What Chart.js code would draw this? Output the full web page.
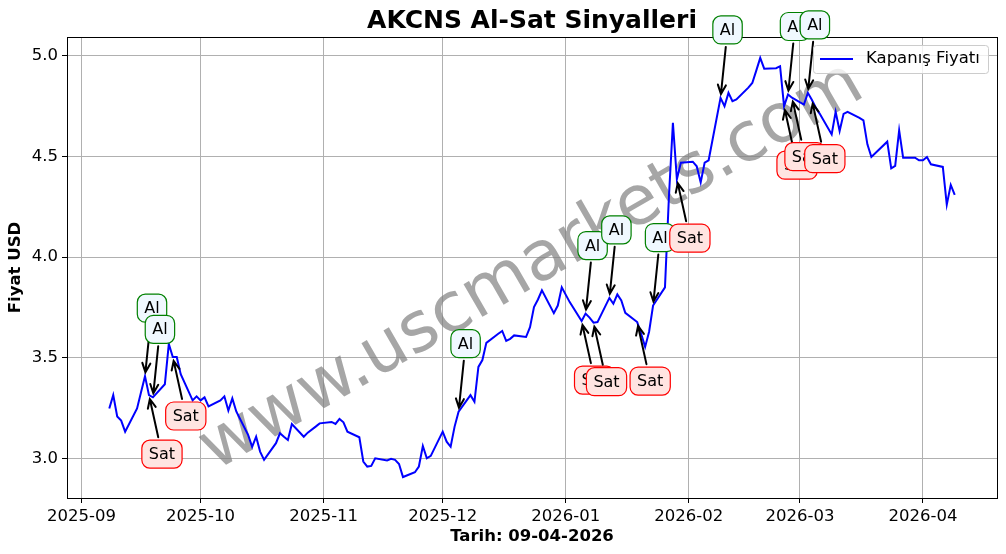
<!DOCTYPE html>
<html>
<head>
<meta charset="utf-8">
<script src="https://cdn.jsdelivr.net/npm/chart.js@4.4.1/dist/chart.umd.min.js"></script>
<style>
  body { margin: 0; background: #fff; }
  #wrap { width: 1006px; height: 554px; }
</style>
</head>
<body>
<div id="wrap"><canvas id="chart" width="1006" height="554"></canvas></div>
<script>
// Data
const dates = [
  '2025-09-08','2025-09-09','2025-09-10','2025-09-11','2025-09-12',
  '2025-09-15','2025-09-16','2025-09-17','2025-09-18','2025-09-19',
  '2025-09-22','2025-09-23','2025-09-24','2025-09-25','2025-09-26',
  '2025-09-29','2025-09-30','2025-10-01','2025-10-02','2025-10-03',
  '2025-10-06','2025-10-07','2025-10-08','2025-10-09','2025-10-10',
  '2025-10-13','2025-10-14','2025-10-15','2025-10-16','2025-10-17',
  '2025-10-20','2025-10-21','2025-10-22','2025-10-23','2025-10-24',
  '2025-10-27','2025-10-28','2025-10-30','2025-10-31',
  '2025-11-03','2025-11-04','2025-11-05','2025-11-06','2025-11-07',
  '2025-11-10','2025-11-11','2025-11-12','2025-11-13','2025-11-14',
  '2025-11-17','2025-11-18','2025-11-19','2025-11-20','2025-11-21',
  '2025-11-24','2025-11-25','2025-11-26','2025-11-27','2025-11-28',
  '2025-12-01','2025-12-02','2025-12-03','2025-12-04','2025-12-05',
  '2025-12-08','2025-12-09','2025-12-10','2025-12-11','2025-12-12',
  '2025-12-15','2025-12-16','2025-12-17','2025-12-18','2025-12-19',
  '2025-12-22','2025-12-23','2025-12-24','2025-12-25','2025-12-26',
  '2025-12-29','2025-12-30','2025-12-31','2026-01-02',
  '2026-01-05','2026-01-06','2026-01-07','2026-01-08','2026-01-09',
  '2026-01-12','2026-01-13','2026-01-14','2026-01-15','2026-01-16',
  '2026-01-19','2026-01-20','2026-01-21','2026-01-22','2026-01-23',
  '2026-01-26','2026-01-27','2026-01-28','2026-01-29','2026-01-30',
  '2026-02-02','2026-02-03','2026-02-04','2026-02-05','2026-02-06',
  '2026-02-09','2026-02-10','2026-02-11','2026-02-12','2026-02-13',
  '2026-02-16','2026-02-17','2026-02-18','2026-02-19','2026-02-20',
  '2026-02-23','2026-02-24','2026-02-25','2026-02-26','2026-02-27',
  '2026-03-02','2026-03-03','2026-03-04','2026-03-05','2026-03-06',
  '2026-03-09','2026-03-10','2026-03-11','2026-03-12','2026-03-13',
  '2026-03-16','2026-03-17','2026-03-18','2026-03-19',
  '2026-03-23','2026-03-24','2026-03-25','2026-03-26','2026-03-27',
  '2026-03-30','2026-03-31','2026-04-01','2026-04-02','2026-04-03',
  '2026-04-06','2026-04-07','2026-04-08','2026-04-09'
];
const closes = [
  3.25, 3.316, 3.21, 3.19, 3.135,
  3.25, 3.33, 3.41, 3.316, 3.305,
  3.37, 3.57, 3.505, 3.505, 3.42,
  3.29, 3.31, 3.29, 3.305, 3.26,
  3.29, 3.31, 3.24, 3.30, 3.235,
  3.118, 3.06, 3.11, 3.036, 2.995,
  3.078, 3.127, 3.11, 3.094, 3.173,
  3.11, 3.13, 3.16, 3.176,
  3.183, 3.173, 3.198, 3.181, 3.135,
  3.107, 2.987, 2.962, 2.965, 3.003,
  2.992, 3.0, 2.995, 2.975, 2.91,
  2.934, 2.962, 3.064, 3.003, 3.015,
  3.135, 3.085, 3.06, 3.16, 3.234,
  3.316, 3.283, 3.456, 3.49, 3.575,
  3.62, 3.634, 3.585, 3.595, 3.612,
  3.604, 3.653, 3.752, 3.79, 3.835,
  3.722, 3.76, 3.85, 3.777,
  3.683, 3.72, 3.70, 3.675, 3.678,
  3.798, 3.769, 3.815, 3.785, 3.724,
  3.678, 3.62, 3.555, 3.63, 3.76,
  3.85, 4.30, 4.666, 4.386, 4.468,
  4.473, 4.45, 4.37, 4.468, 4.48,
  4.789, 4.748, 4.814, 4.773, 4.781,
  4.84, 4.863, 4.924, 4.987, 4.934,
  4.936, 4.946, 4.748, 4.806, 4.79,
  4.756, 4.814, 4.78, 4.74, 4.71,
  4.608, 4.72, 4.625, 4.71, 4.72,
  4.69, 4.678, 4.559, 4.496,
  4.572, 4.44, 4.452, 4.628, 4.493,
  4.493, 4.48, 4.48, 4.496, 4.46,
  4.447, 4.26, 4.358, 4.309
];
const buyDates = ['2025-09-17','2025-09-19','2025-12-05','2026-01-06','2026-01-12','2026-01-23','2026-02-09','2026-02-26','2026-03-03'];
const sellDates = ['2025-09-18','2025-09-24','2026-01-05','2026-01-08','2026-01-19','2026-01-29','2026-02-25','2026-02-27','2026-03-04'];
const monthTicks = ['2025-09-01','2025-10-01','2025-11-01','2025-12-01','2026-01-01','2026-02-01','2026-03-01','2026-04-01'];
const monthLabels = ['2025-09','2025-10','2025-11','2025-12','2026-01','2026-02','2026-03','2026-04'];
const yTicks = [3.0, 3.5, 4.0, 4.5, 5.0];

const FONT = "'DejaVu Sans', 'Liberation Sans', sans-serif";
Chart.defaults.font.family = FONT;

const dayNum = (s) => {
  const [y, m, d] = s.split('-').map(Number);
  return (Date.UTC(y, m - 1, d) - Date.UTC(2025, 8, 1)) / 86400000;
};

const points = dates.map((d, i) => ({ x: dayNum(d), y: closes[i] }));
const firstDay = dayNum(dates[0]);
const lastDay = dayNum(dates[dates.length - 1]);
const xPad = (lastDay - firstDay) * 0.05;
const yMinV = Math.min(...closes), yMaxV = Math.max(...closes);
const yPad = (yMaxV - yMinV) * 0.05;

const priceOn = (d) => closes[dates.indexOf(d)];

// arrow + rounded box like matplotlib annotate
const drawSignal = (ctx, px, py, label) => {
  const buy = label === 'Al';
  const cx = px + (buy ? 7 : 13);
  const cy = py + (buy ? -68 : 59);
  ctx.font = '16px ' + FONT;
  const tw = ctx.measureText(label).width;
  const w = tw + 14, h = 28;

  // arrow
  let dx = px - cx, dy = py - cy;
  const len = Math.hypot(dx, dy);
  const ux = dx / len, uy = dy / len;
  const tEdge = Math.min(Math.abs(ux) > 1e-6 ? (w / 2) / Math.abs(ux) : 1e9, (h / 2) / Math.abs(uy));
  const sx = cx + ux * (tEdge + 3), sy = cy + uy * (tEdge + 3);
  const ex = px - ux * 4, ey = py - uy * 4;
  ctx.save();
  ctx.strokeStyle = '#000';
  ctx.lineWidth = 2;
  ctx.lineCap = 'round';
  ctx.beginPath();
  ctx.moveTo(sx, sy);
  ctx.lineTo(ex, ey);
  const hl = 9, hw = 4;
  const bx = ex - ux * hl, by = ey - uy * hl;
  ctx.moveTo(bx - uy * hw, by + ux * hw);
  ctx.lineTo(ex, ey);
  ctx.lineTo(bx + uy * hw, by - ux * hw);
  ctx.stroke();

  // box
  ctx.beginPath();
  ctx.roundRect(cx - w / 2, cy - h / 2, w, h, 8);
  ctx.fillStyle = buy ? '#f0f8ff' : '#ffe4e1';
  ctx.fill();
  ctx.lineWidth = 1.2;
  ctx.strokeStyle = buy ? 'green' : 'red';
  ctx.stroke();
  ctx.fillStyle = '#000';
  ctx.textAlign = 'center';
  ctx.textBaseline = 'middle';
  ctx.fillText(label, cx, cy + 1);
  ctx.restore();
};

const extras = {
  id: 'extras',
  beforeDraw(chart) {
    const ctx = chart.ctx;
    ctx.save();
    ctx.fillStyle = '#fff';
    ctx.fillRect(0, 0, chart.width, chart.height);
    ctx.restore();
  },
  beforeDatasetsDraw(chart) {
    const { ctx, chartArea: a } = chart;
    ctx.save();
    ctx.translate((a.left + a.right) / 2, (a.top + a.bottom) / 2);
    ctx.rotate(-30 * Math.PI / 180);
    ctx.font = '69px ' + FONT;
    ctx.fillStyle = 'rgba(128,128,128,0.7)';
    ctx.textAlign = 'center';
    ctx.textBaseline = 'middle';
    ctx.fillText('www.uscmarkets.com', 0, 0);
    ctx.restore();
  },
  afterDatasetsDraw(chart) {
    const { ctx, chartArea: a, scales } = chart;
    // axes frame
    ctx.save();
    ctx.strokeStyle = '#000';
    ctx.lineWidth = 1;
    ctx.strokeRect(Math.round(a.left) + 0.5, Math.round(a.top) + 0.5, Math.round(a.right - a.left), Math.round(a.bottom - a.top));
    ctx.restore();

    buyDates.forEach(d => {
      drawSignal(ctx, scales.x.getPixelForValue(dayNum(d)), scales.y.getPixelForValue(priceOn(d)), 'Al');
    });
    sellDates.forEach(d => {
      drawSignal(ctx, scales.x.getPixelForValue(dayNum(d)), scales.y.getPixelForValue(priceOn(d)), 'Sat');
    });

    // legend
    ctx.save();
    const lx = 813, ly = 45, lw = 175, lh = 28;
    ctx.beginPath();
    ctx.roundRect(lx + 0.5, ly + 0.5, lw, lh, 3);
    ctx.fillStyle = 'rgba(255,255,255,0.8)';
    ctx.fill();
    ctx.strokeStyle = '#cccccc';
    ctx.lineWidth = 1;
    ctx.stroke();
    ctx.beginPath();
    ctx.moveTo(820, 59);
    ctx.lineTo(853, 59);
    ctx.strokeStyle = 'blue';
    ctx.lineWidth = 2;
    ctx.stroke();
    ctx.fillStyle = '#000';
    ctx.font = '16.5px ' + FONT;
    ctx.textBaseline = 'middle';
    ctx.textAlign = 'left';
    ctx.fillText('Kapanış Fiyatı', 866, 59);
    ctx.restore();

    // title and axis titles
    ctx.save();
    ctx.fillStyle = '#000';
    ctx.textAlign = 'center';
    ctx.textBaseline = 'middle';
    ctx.font = 'bold 25px ' + FONT;
    ctx.fillText('AKCNS Al-Sat Sinyalleri', (a.left + a.right) / 2, 21);
    ctx.font = 'bold 16.5px ' + FONT;
    ctx.fillText('Tarih: 09-04-2026', (a.left + a.right) / 2, 537);
    ctx.translate(16, (a.top + a.bottom) / 2);
    ctx.rotate(-Math.PI / 2);
    ctx.fillText('Fiyat USD', 0, 0);
    ctx.restore();
  }
};

new Chart(document.getElementById('chart'), {
  type: 'line',
  data: {
    datasets: [{
      label: 'Kapanış Fiyatı',
      data: points,
      borderColor: 'blue',
      borderWidth: 2,
      pointRadius: 0,
      tension: 0,
      fill: false
    }]
  },
  options: {
    responsive: false,
    animation: false,
    devicePixelRatio: 1,
    layout: { padding: { top: 37, right: 9, left: 0, bottom: 0 } },
    plugins: {
      legend: { display: false },
      title: { display: false },
      tooltip: { enabled: false }
    },
    scales: {
      x: {
        type: 'linear',
        min: firstDay - xPad,
        max: lastDay + xPad,
        afterBuildTicks: (scale) => { scale.ticks = monthTicks.map(d => ({ value: dayNum(d) })); },
        afterFit: (scale) => { scale.height = 56; },
        border: { display: false },
        grid: { color: '#b0b0b0', lineWidth: 1, tickColor: '#000', tickLength: 5, tickWidth: 1 },
        ticks: {
          color: '#000',
          font: { size: 16.5 },
          padding: 4,
          maxRotation: 0,
          autoSkip: false,
          callback: (v) => monthLabels[monthTicks.findIndex(d => dayNum(d) === v)]
        }
      },
      y: {
        min: yMinV - yPad,
        max: yMaxV + yPad,
        afterBuildTicks: (scale) => { scale.ticks = yTicks.map(v => ({ value: v })); },
        afterFit: (scale) => { scale.width = 67; },
        border: { display: false },
        grid: { color: '#b0b0b0', lineWidth: 1, tickColor: '#000', tickLength: 5, tickWidth: 1 },
        ticks: {
          color: '#000',
          font: { size: 16.5 },
          padding: 4,
          callback: (v) => v.toFixed(1)
        }
      }
    }
  },
  plugins: [extras]
});
</script>
</body>
</html>
